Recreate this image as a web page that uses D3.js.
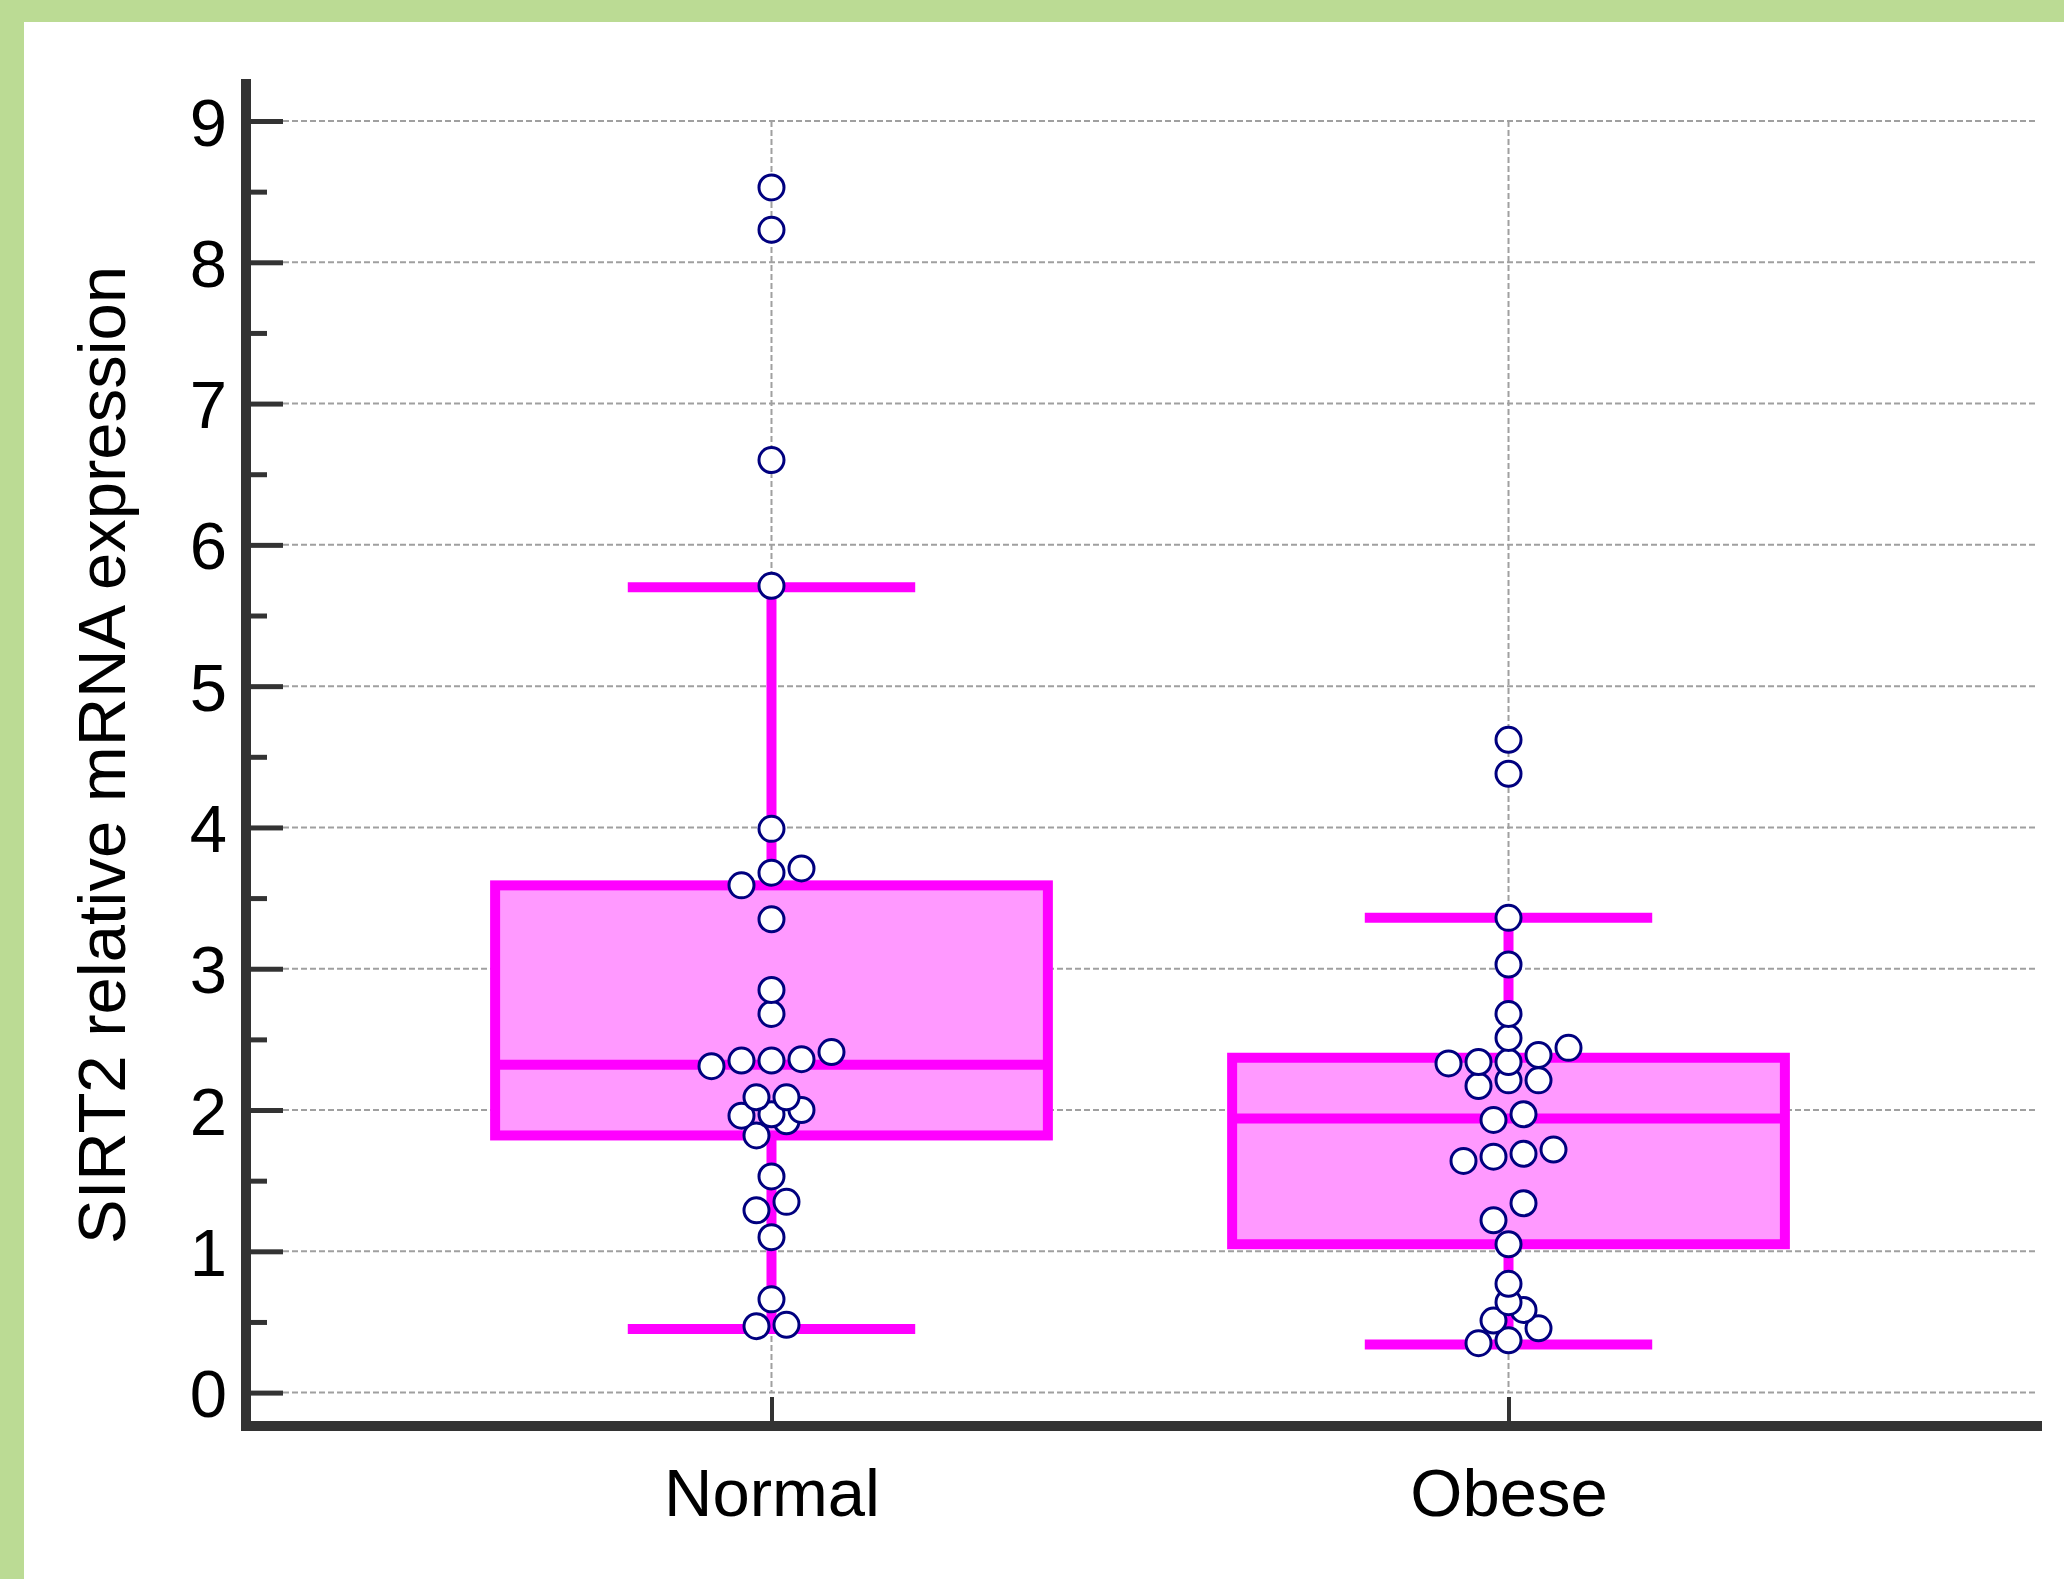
<!doctype html>
<html>
<head>
<meta charset="utf-8">
<script src="https://d3js.org/d3.v7.min.js"></script>
<style>
body { margin: 0; background: #fff; }
svg text { font-family: "Liberation Sans", Arial, sans-serif; fill: #000; }
</style>
</head>
<body>
<script>

// data
var categories = ["Normal", "Obese"];
var normalValues = [8.53, 8.23, 6.60, 5.71, 3.99, 3.71, 3.68, 3.59, 3.35, 2.85, 2.68,
                    2.41, 2.36, 2.35, 2.35, 2.31, 2.09, 2.09, 2.00, 1.97, 1.96, 1.92,
                    1.82, 1.53, 1.35, 1.29, 1.10, 0.66, 0.48, 0.47];
var obeseValues = [4.62, 4.38, 3.36, 3.03, 2.68, 2.51, 2.44, 2.39, 2.34, 2.34, 2.33,
                   2.21, 2.21, 2.17, 1.97, 1.93, 1.72, 1.69, 1.67, 1.64, 1.34, 1.22,
                   1.05, 0.77, 0.64, 0.585, 0.51, 0.455, 0.37, 0.35];
// [low whisker, Q1, median, Q3, high whisker]
var normalBox = [0.45, 1.82, 2.32, 3.59, 5.70];
var obeseBox = [0.34, 1.05, 1.94, 2.37, 3.36];
var yTicks = [0, 1, 2, 3, 4, 5, 6, 7, 8, 9];
var yMinorTicks = [0.5, 1.5, 2.5, 3.5, 4.5, 5.5, 6.5, 7.5, 8.5];
var yLabel = "SIRT2 relative mRNA expression";

var W = 2064, H = 1579;
var axisX = 246, axisY = 1426;

var svg = d3.select("body").append("svg")
    .attr("width", W)
    .attr("height", H);

// green frame (top and left only, the image is cropped)
svg.append("rect").attr("x", 0).attr("y", 0).attr("width", W).attr("height", 22).attr("fill", "#bbdb94");
svg.append("rect").attr("x", 0).attr("y", 0).attr("width", 24).attr("height", H).attr("fill", "#bbdb94");

// scales
var y = d3.scaleLinear().domain([0, 9]).range([1392.6, 121]);
var x = d3.scalePoint().domain(categories).range([axisX, 2034]).padding(0.713);
var step = x.step();
var boxW = step * 0.75, capW = step * 0.39;

// horizontal grid
svg.append("g").selectAll("line")
    .data(yTicks)
  .enter().append("line")
    .attr("x1", axisX + 37).attr("x2", 2036)
    .attr("y1", function(d) { return y(d); })
    .attr("y2", function(d) { return y(d); })
    .attr("stroke", "#a0a0a0").attr("stroke-width", 2)
    .attr("stroke-dasharray", "6,3");

// vertical grid at categories
svg.append("g").selectAll("line")
    .data(categories)
  .enter().append("line")
    .attr("x1", function(d) { return x(d); })
    .attr("x2", function(d) { return x(d); })
    .attr("y1", y(9)).attr("y2", y(0))
    .attr("stroke", "#a0a0a0").attr("stroke-width", 2)
    .attr("stroke-dasharray", "6,3");

// y axis ticks and labels
var yAxis = svg.append("g")
    .attr("transform", "translate(" + (axisX + 5) + ",0)")
    .call(d3.axisLeft(y).tickValues(yTicks).tickSize(-32).tickSizeOuter(0).tickPadding(24));
yAxis.select(".domain").remove();
yAxis.selectAll(".tick line").attr("stroke", "#333").attr("stroke-width", 5);
yAxis.selectAll(".tick text")
    .attr("font-size", 67)
    .attr("font-family", "Liberation Sans, Arial, sans-serif")
    .attr("dy", "0.36em");

var yMinor = svg.append("g")
    .attr("transform", "translate(" + (axisX + 5) + ",0)")
    .call(d3.axisLeft(y).tickValues(yMinorTicks).tickSize(-16).tickSizeOuter(0).tickFormat(""));
yMinor.select(".domain").remove();
yMinor.selectAll(".tick line").attr("stroke", "#333").attr("stroke-width", 5);

// x axis ticks and labels
var xAxis = svg.append("g")
    .attr("transform", "translate(0," + (axisY - 5) + ")")
    .call(d3.axisBottom(x).tickSize(-24).tickSizeOuter(0).tickPadding(47));
xAxis.select(".domain").remove();
xAxis.selectAll(".tick line").attr("stroke", "#333").attr("stroke-width", 4);
xAxis.selectAll(".tick text")
    .attr("font-size", 67)
    .attr("font-family", "Liberation Sans, Arial, sans-serif");

// axis lines
svg.append("line")
    .attr("x1", axisX).attr("x2", axisX)
    .attr("y1", 79).attr("y2", axisY + 5)
    .attr("stroke", "#333").attr("stroke-width", 10);
svg.append("line")
    .attr("x1", axisX - 5).attr("x2", 2042)
    .attr("y1", axisY).attr("y2", axisY)
    .attr("stroke", "#333").attr("stroke-width", 10);

// y label
svg.append("text")
    .attr("transform", "translate(125," + 755 + ") rotate(-90)")
    .attr("text-anchor", "middle")
    .attr("font-size", 67)
    .text(yLabel);

// box plots
var groups = [
  {name: categories[0], box: normalBox, values: normalValues},
  {name: categories[1], box: obeseBox, values: obeseValues}
];

var magenta = "#ff00ff";

groups.forEach(function(g) {
  var cx = x(g.name), b = g.box;
  var gg = svg.append("g");

  // whiskers
  gg.append("line")
      .attr("x1", cx).attr("x2", cx)
      .attr("y1", y(b[0])).attr("y2", y(b[4]))
      .attr("stroke", magenta).attr("stroke-width", 10);
  [b[0], b[4]].forEach(function(v) {
    gg.append("line")
        .attr("x1", cx - capW / 2).attr("x2", cx + capW / 2)
        .attr("y1", y(v)).attr("y2", y(v))
        .attr("stroke", magenta).attr("stroke-width", 10);
  });

  // box
  gg.append("rect")
      .attr("x", cx - boxW / 2)
      .attr("y", y(b[3]))
      .attr("width", boxW)
      .attr("height", y(b[1]) - y(b[3]))
      .attr("fill", "#ff99ff")
      .attr("stroke", magenta).attr("stroke-width", 10);

  // median
  gg.append("line")
      .attr("x1", cx - boxW / 2).attr("x2", cx + boxW / 2)
      .attr("y1", y(b[2])).attr("y2", y(b[2]))
      .attr("stroke", magenta).attr("stroke-width", 10);
});

// spread points sitting close together into little rows
function dodge(vals) {
  var sorted = vals.slice().sort(d3.ascending);
  var out = [], row = [];
  function flush() {
    row.forEach(function(v, i) { out.push({v: v, k: i - (row.length - 1) / 2}); });
    row = [];
  }
  sorted.forEach(function(v) {
    if (row.length && v - row[0] > 0.125) flush();
    row.push(v);
  });
  flush();
  return out;
}

groups.forEach(function(g) {
  var cx = x(g.name);
  svg.append("g").selectAll("circle")
      .data(dodge(g.values))
    .enter().append("circle")
      .attr("cx", function(d) { return cx + d.k * 30; })
      .attr("cy", function(d) { return y(d.v); })
      .attr("r", 12.5)
      .attr("fill", "#fff")
      .attr("stroke", "#00007f")
      .attr("stroke-width", 3);
});

</script>
</body>
</html>
